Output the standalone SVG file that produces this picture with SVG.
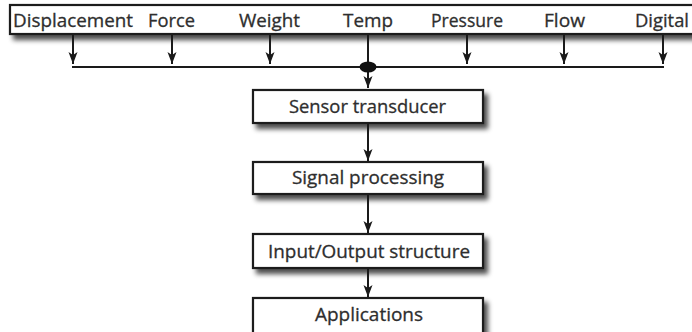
<svg xmlns="http://www.w3.org/2000/svg" width="692" height="332" viewBox="0 0 692 332">
  <defs>
    <filter id="shadow" x="-5%" y="-20%" width="115%" height="160%">
      <feGaussianBlur in="SourceAlpha" stdDeviation="2.5"/>
      <feOffset dx="4" dy="5" result="b"/>
      <feComponentTransfer><feFuncA type="linear" slope="0.7"/></feComponentTransfer>
      <feMerge><feMergeNode/><feMergeNode in="SourceGraphic"/></feMerge>
    </filter>
    <marker id="arrow" markerWidth="13" markerHeight="10" refX="12" refY="5" orient="auto" markerUnits="userSpaceOnUse" viewBox="0 0 13 10">
      <path d="M0,0.5 L12,5 L0,9.5 L3,5 Z" fill="#1a1a1a"/>
    </marker>
  </defs>
  <style>
    .box { fill: #ffffff; stroke: #1e1e1e; stroke-width: 2.2; }
    .lbl { font-family: "Open Sans", "Noto Sans", sans-serif; font-size: 18.5px; fill: #2e2e2e; stroke: #2e2e2e; stroke-width: 0.3; text-anchor: middle; }
    .conn { stroke: #1a1a1a; stroke-width: 2; fill: none; }
  </style>
  <rect width="692" height="332" fill="#ffffff"/>

  <g id="inputs">
    <rect class="box" x="10" y="5" width="690" height="29" filter="url(#shadow)"/>
    <text class="lbl" x="73" y="27" textLength="120" lengthAdjust="spacingAndGlyphs">Displacement</text>
    <text class="lbl" x="171.5" y="27" textLength="47" lengthAdjust="spacingAndGlyphs">Force</text>
    <text class="lbl" x="269.5" y="27" textLength="61" lengthAdjust="spacingAndGlyphs">Weight</text>
    <text class="lbl" x="368" y="27" textLength="50" lengthAdjust="spacingAndGlyphs">Temp</text>
    <text class="lbl" x="467" y="27" textLength="72" lengthAdjust="spacingAndGlyphs">Pressure</text>
    <text class="lbl" x="564.5" y="27" textLength="41" lengthAdjust="spacingAndGlyphs">Flow</text>
    <text class="lbl" x="662" y="27" textLength="54" lengthAdjust="spacingAndGlyphs">Digital</text>
  </g>

  <g id="sensor">
    <rect class="box" x="253" y="90" width="230" height="33" filter="url(#shadow)"/>
    <text class="lbl" x="367.5" y="113" textLength="157" lengthAdjust="spacingAndGlyphs">Sensor transducer</text>
  </g>
  <g id="signal">
    <rect class="box" x="253" y="162" width="230" height="32" filter="url(#shadow)"/>
    <text class="lbl" x="368" y="184" textLength="152" lengthAdjust="spacingAndGlyphs">Signal processing</text>
  </g>
  <g id="io">
    <rect class="box" x="253" y="234" width="230" height="34" filter="url(#shadow)"/>
    <text class="lbl" x="369" y="258" textLength="202" lengthAdjust="spacingAndGlyphs">Input/Output structure</text>
  </g>
  <g id="applications">
    <rect class="box" x="253" y="298" width="230" height="42" filter="url(#shadow)"/>
    <text class="lbl" x="369" y="321" textLength="108" lengthAdjust="spacingAndGlyphs">Applications</text>
  </g>

  <g id="connectors">
    <line class="conn" x1="73" y1="35" x2="73" y2="64" marker-end="url(#arrow)"/>
    <line class="conn" x1="172" y1="35" x2="172" y2="64" marker-end="url(#arrow)"/>
    <line class="conn" x1="270" y1="35" x2="270" y2="64" marker-end="url(#arrow)"/>
    <line class="conn" x1="467" y1="35" x2="467" y2="64" marker-end="url(#arrow)"/>
    <line class="conn" x1="564" y1="35" x2="564" y2="64" marker-end="url(#arrow)"/>
    <line class="conn" x1="663" y1="35" x2="663" y2="64" marker-end="url(#arrow)"/>
    <line class="conn" x1="72" y1="67" x2="664" y2="67"/>
    <line class="conn" x1="368" y1="35" x2="368" y2="88" marker-end="url(#arrow)"/>
    <ellipse cx="368" cy="67" rx="8.5" ry="5.5" fill="#111111"/>
    <line class="conn" x1="368" y1="124" x2="368" y2="161" marker-end="url(#arrow)"/>
    <line class="conn" x1="368" y1="195" x2="368" y2="233" marker-end="url(#arrow)"/>
    <line class="conn" x1="368" y1="269" x2="368" y2="297" marker-end="url(#arrow)"/>
  </g>
</svg>
